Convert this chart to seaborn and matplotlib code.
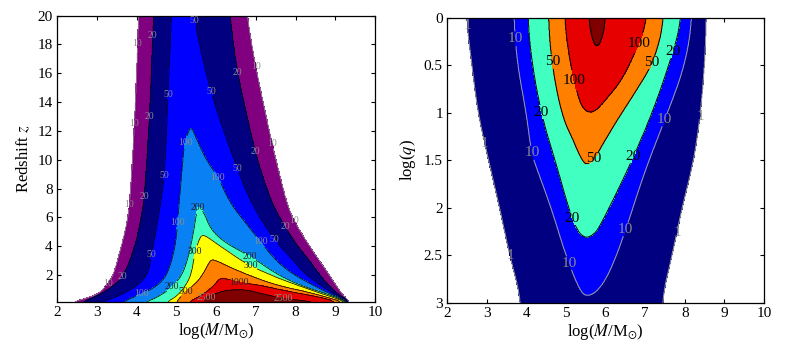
import numpy as np
import matplotlib
matplotlib.use("Agg")
import matplotlib.pyplot as plt
from matplotlib.path import Path
from matplotlib.ticker import FormatStrFormatter, MultipleLocator
import seaborn as sns

# ---- left panel: outlines of each contour level, (log M, z)
z_levels = [10, 20, 50, 100, 200, 300, 500, 1000, 2500]
z_colors = ["#800080", "#000080", "#0000ff", "#0a80f5", "#40ffc0",
            "#ffff00", "#ff8000", "#e60000", "#800000"]

z_c10 = [(2.37, 0.1), (2.74, 0.38), (3.07, 0.73), (3.28, 1.42), (3.42, 2.0), (3.62, 4.0),
         (3.75, 5.5), (3.83, 6.9), (3.95, 12.5), (4.03, 18.1), (4.05, 20.0),
         (6.78, 20.0), (6.99, 16.5), (7.41, 11.1), (7.57, 9.3), (7.78, 7.0), (7.96, 5.75),
         (8.35, 4.0), (8.85, 2.0), (9.15, 0.75), (9.27, 0.4), (9.36, 0.1)]
z_c20 = [(2.6, 0.1), (3.0, 0.5), (3.4, 1.2), (3.67, 1.84), (3.97, 4.0), (4.12, 6.0),
         (4.2, 7.4), (4.33, 13.0), (4.41, 18.65), (4.43, 20.0),
         (6.35, 20.0), (6.53, 16.0), (6.98, 10.6), (7.12, 9.3), (7.4, 7.0), (7.73, 5.35),
         (8.05, 4.0), (8.35, 3.0), (8.6, 2.0), (9.02, 0.75), (9.23, 0.4), (9.34, 0.1)]
z_c50 = [(3.08, 0.1), (3.53, 0.5), (4.0, 1.2), (4.28, 2.0), (4.38, 3.4), (4.55, 6.0),
         (4.71, 8.9), (4.79, 14.5), (4.88, 20.0),
         (5.43, 20.0), (5.85, 14.7), (6.53, 9.4), (6.88, 7.0), (7.45, 4.43), (7.95, 3.0),
         (8.25, 2.0), (8.92, 0.75), (9.18, 0.4), (9.32, 0.1)]
z_c100 = [(3.6, 0.1), (4.14, 0.68), (4.5, 1.2), (4.78, 2.0), (4.98, 4.0), (5.03, 5.66),
          (5.12, 8.5), (5.2, 11.2), (5.37, 12.4),
          (5.5, 11.5), (5.75, 10.0), (6.05, 8.8), (6.35, 7.0), (6.75, 5.6), (7.12, 4.3),
          (7.5, 3.0), (7.95, 2.0), (8.82, 0.75), (9.12, 0.4), (9.3, 0.1)]
z_c200 = [(4.2, 0.1), (4.49, 0.4), (4.82, 0.97), (5.14, 1.9), (5.31, 3.3), (5.43, 4.9),
          (5.52, 6.5), (5.57, 6.8),
          (5.7, 6.3), (5.87, 5.14), (6.24, 4.2), (6.87, 3.3), (7.55, 2.0), (8.2, 1.2),
          (8.72, 0.75), (9.07, 0.4), (9.28, 0.1)]
z_c300 = [(4.75, 0.1), (5.0, 0.5), (5.16, 0.97), (5.37, 1.9), (5.47, 3.6), (5.58, 4.5), (5.66, 4.8),
          (5.8, 4.6), (5.95, 4.3), (6.42, 3.4), (6.87, 2.6), (7.3, 2.1), (7.66, 1.67),
          (8.6, 0.75), (9.0, 0.4), (9.25, 0.1)]
z_c500 = [(5.0, 0.1), (5.1, 0.45), (5.24, 0.85), (5.53, 1.5), (5.7, 2.2), (5.78, 2.6), (5.87, 3.06),
          (6.0, 3.0), (6.3, 2.6), (6.8, 2.0), (7.5, 1.3), (8.4, 0.75), (8.85, 0.4), (9.2, 0.1)]
z_c1000 = [(5.3, 0.1), (5.55, 0.45), (5.85, 1.0), (6.0, 1.45), (6.12, 1.8),
           (6.3, 1.7), (6.58, 1.48), (7.08, 1.3), (7.83, 0.85), (8.66, 0.44), (9.05, 0.1)]
z_c2500 = [(5.7, 0.1), (5.74, 0.47), (6.0, 0.7), (6.2, 0.9), (6.45, 0.97), (6.8, 0.95),
           (7.08, 0.74), (7.7, 0.35), (8.6, 0.1)]

# where the level labels sit on the left panel
z_label_at = [(4.03, 18.1), (3.95, 12.5), (3.83, 6.9), (3.28, 1.42), (6.99, 16.5), (7.41, 11.1), (7.96, 5.75),
              (4.41, 18.65), (4.33, 13.0), (4.2, 7.4), (3.67, 1.84), (6.53, 16.0), (6.98, 10.6), (7.73, 5.35),
              (4.79, 14.5), (4.71, 8.9), (4.38, 3.4), (5.45, 19.6), (5.85, 14.7), (6.53, 9.4), (7.45, 4.43),
              (5.2, 11.2), (5.03, 5.66), (4.14, 0.68), (6.05, 8.8), (7.12, 4.3),
              (5.53, 6.7), (4.87, 1.3), (6.87, 3.3),
              (5.45, 3.6), (6.87, 2.6),
              (5.24, 0.85),
              (6.58, 1.48),
              (5.74, 0.47), (7.7, 0.35)]

# ---- right panel: outlines of each contour level, (log M, log q)
q_levels = [1, 10, 20, 50, 100, 200]
q_colors = ["#000080", "#0000ff", "#40ffc0", "#ff8000", "#e60000", "#800000"]

q_c1 = [(3.9, 3.0), (3.58, 2.5), (3.33, 2.0), (3.05, 1.5), (2.78, 1.0), (2.63, 0.5), (2.48, 0.0),
        (8.55, 0.0), (8.5, 0.5), (8.4, 1.0), (8.23, 1.5), (7.93, 2.0), (7.68, 2.5), (7.4, 3.0)]
q_c10 = [(3.68, 0.0), (3.78, 0.5), (4.0, 1.0), (4.13, 1.42), (4.28, 1.6), (4.63, 2.0), (5.0, 2.5),
         (5.33, 2.85), (5.52, 2.94),
         (5.85, 2.86), (6.17, 2.62), (6.52, 2.22), (7.0, 1.6), (7.5, 1.07), (8.0, 0.51), (8.2, 0.0)]
q_c20 = [(4.03, 0.0), (4.15, 0.5), (4.4, 1.05), (4.75, 1.53), (5.08, 2.02), (5.3, 2.25), (5.5, 2.32),
         (5.7, 2.28), (5.85, 2.2), (6.27, 1.85), (6.68, 1.49), (7.18, 1.0), (7.6, 0.5), (7.95, 0.0)]
q_c50 = [(4.55, 0.0), (4.65, 0.5), (4.9, 1.03), (5.2, 1.3), (5.35, 1.45), (5.5, 1.55),
         (5.7, 1.5), (5.9, 1.35), (6.3, 1.07), (6.8, 0.75), (7.23, 0.45), (7.5, 0.0)]
q_c100 = [(4.95, 0.0), (5.12, 0.51), (5.33, 0.86), (5.45, 0.96), (5.62, 1.0),
          (5.8, 0.96), (6.0, 0.86), (6.35, 0.69), (6.67, 0.44), (7.1, 0.0)]
q_c200 = [(5.58, 0.0), (5.63, 0.15), (5.7, 0.26), (5.78, 0.3), (5.87, 0.26), (5.95, 0.15), (6.0, 0.0)]

# where the level labels sit on the right panel
q_label_at = [(2.48, 0.08), (2.93, 1.32), (3.62, 2.5), (8.48, 1.05), (7.98, 2.26),
              (3.58, 0.22), (4.12, 1.42), (4.95, 2.59), (6.49, 2.22), (7.49, 1.07),
              (4.45, 0.99), (5.08, 2.13), (6.7, 1.46), (7.87, 0.37),
              (4.7, 0.46), (5.74, 1.49), (7.23, 0.48),
              (5.37, 0.65), (6.91, 0.28)]


def extend(outline, lo, hi):
    # carry the ends that sit on the axis limits a bit past them
    out = []
    for i, (x, y) in enumerate(outline):
        if y <= lo or y >= hi:
            e = (x, y - 1 if y <= lo else y + 1)
            prev_in = i > 0 and lo < outline[i - 1][1] < hi
            out += [(x, y), e] if prev_in else [e, (x, y)]
        else:
            out.append((x, y))
    return np.array(out, float)


def chaikin(v, n=3):
    for _ in range(n):
        b = np.roll(v, -1, axis=0)
        new = np.empty((2 * len(v), 2))
        new[0::2] = 0.75 * v + 0.25 * b
        new[1::2] = 0.25 * v + 0.75 * b
        v = new
    return v


def level_field(outlines, xg, yg, lo, hi):
    X, Y = np.meshgrid(xg, yg)
    pts = np.column_stack([X.ravel(), Y.ravel()])
    count = np.zeros(X.size)
    for outline in outlines:
        count += Path(chaikin(extend(outline, lo, hi))).contains_points(pts)
    return count.reshape(X.shape)


sns.set_theme(style="ticks", rc={
    "xtick.direction": "in", "ytick.direction": "in",
    "xtick.top": True, "ytick.right": True,
    "xtick.major.size": 3.2, "ytick.major.size": 3.2,
    "xtick.major.width": 0.8, "ytick.major.width": 0.8,
    "axes.linewidth": 0.9, "axes.edgecolor": "black",
    "xtick.color": "black", "ytick.color": "black",
    "axes.labelcolor": "black", "text.color": "black",
})
plt.rcParams["font.family"] = ["Liberation Serif", "DejaVu Serif"]
plt.rcParams["mathtext.fontset"] = "stix"

fig = plt.figure(figsize=(7.9, 3.5), dpi=100)
fig.patch.set_facecolor("white")
ax1 = fig.add_axes([0.0722, 0.1363, 0.4025, 0.8189])
ax2 = fig.add_axes([0.5658, 0.1343, 0.4013, 0.8143])

xg = np.linspace(2, 10, 801)

# left panel
zg = np.linspace(0.1, 20, 797)
zf = level_field([z_c10, z_c20, z_c50, z_c100, z_c200, z_c300, z_c500, z_c1000, z_c2500],
                 xg, zg, 0.1, 20)
n = len(z_levels)
ax1.contourf(xg, zg, zf, levels=np.arange(0.5, n + 1), colors=z_colors)
cs1 = ax1.contour(xg, zg, zf, levels=np.arange(0.5, n), linewidths=0.5,
                  colors=["#9a9a9a"] + ["black"] * (n - 1))
lab_cols = ["#8a8a8a"] * 4 + ["#222222"] * 4 + ["#8a8a8a"]
labels1 = ax1.clabel(cs1, fmt=dict(zip(cs1.levels, [str(v) for v in z_levels])),
                     fontsize=7, colors=lab_cols, inline=True, inline_spacing=0,
                     manual=z_label_at)
ax1.set_xlim(2, 10)
ax1.set_ylim(0.1, 20)
ax1.xaxis.set_major_locator(MultipleLocator(1))
ax1.set_yticks(np.arange(2, 21, 2))
ax1.set_xlabel(r"log($M$/M$_{\odot}$)", fontsize=12, labelpad=1)
ax1.set_ylabel(r"Redshift $z$", fontsize=12, labelpad=4)

# right panel
qg = np.linspace(0, 3, 601)
qf = level_field([q_c1, q_c10, q_c20, q_c50, q_c100, q_c200], xg, qg, 0, 3)
m = len(q_levels)
ax2.contourf(xg, qg, qf, levels=np.arange(0.5, m + 1), colors=q_colors)
cs2 = ax2.contour(xg, qg, qf, levels=np.arange(0.5, m), linewidths=0.7,
                  colors=["#9a9a9a", "#9a9a9a"] + ["black"] * (m - 2))
labels2 = ax2.clabel(cs2, levels=cs2.levels[:5],
                     fmt=dict(zip(cs2.levels, [str(v) for v in q_levels])),
                     fontsize=11, colors=["#8a8a8a", "#8a8a8a", "black", "black", "black"],
                     inline=True, inline_spacing=0, manual=q_label_at)

# labels in the original are written level, not along the line
for t in list(labels1) + list(labels2):
    t.set_rotation(0)

ax2.set_xlim(2, 10)
ax2.set_ylim(3, 0)
ax2.xaxis.set_major_locator(MultipleLocator(1))
ax2.yaxis.set_major_locator(MultipleLocator(0.5))
ax2.yaxis.set_major_formatter(FormatStrFormatter("%g"))
ax2.set_xlabel(r"log($M$/M$_{\odot}$)", fontsize=12, labelpad=1)
ax2.set_ylabel(r"log($q$)", fontsize=12, labelpad=4)

for ax in (ax1, ax2):
    ax.tick_params(labelsize=11, pad=3)
    ax.set_facecolor("white")

fig.savefig("out.png", dpi=100, facecolor="white")
